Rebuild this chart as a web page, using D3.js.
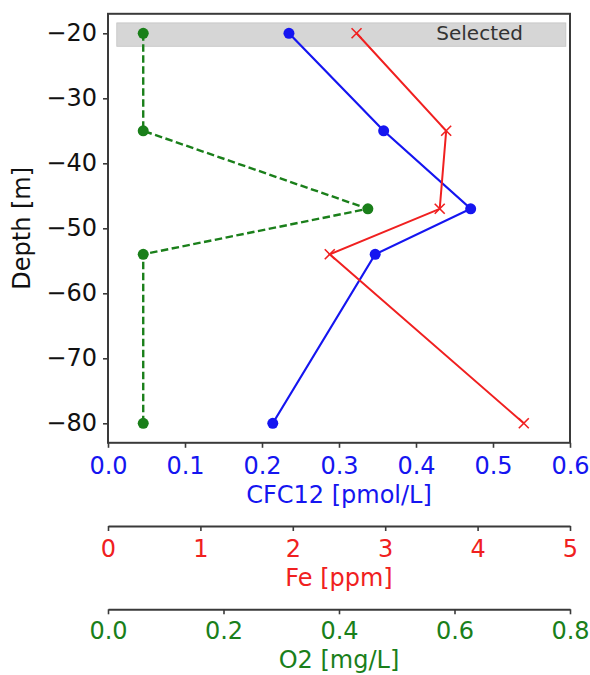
<!DOCTYPE html>
<html><head><meta charset="utf-8">
<script src="https://cdn.jsdelivr.net/npm/d3@7"></script>
<style>
html,body{margin:0;padding:0;background:#fff;}
svg{display:block;font-family:"DejaVu Sans",sans-serif;}
</style></head>
<body>
<svg id="chart" width="590" height="675"></svg>
<script>
// ---- data ----
const depths = [-20, -35, -47, -54, -80];
const cfc12 = [0.235, 0.358, 0.471, 0.347, 0.214];   // pmol/L
const fe = [2.69, 3.66, 3.59, 2.40, 4.50];            // ppm
const o2 = [0.061, 0.061, 0.450, 0.061, 0.061];       // mg/L
const depthTicks = [-20, -30, -40, -50, -60, -70, -80];
const cfcTicks = [0.0, 0.1, 0.2, 0.3, 0.4, 0.5, 0.6];
const feTicks = [0, 1, 2, 3, 4, 5];
const o2Ticks = [0.0, 0.2, 0.4, 0.6, 0.8];
const selectedRange = [-18.4, -22];
const selectedLabel = "Selected";

// ---- layout ----
const L = 108, R = 570, T = 13.8, B = 442.8;
const feAxisY = 526, o2AxisY = 609.3;
const FS = 24;

const svg = d3.select("#chart");
const y = d3.scaleLinear().domain([-17, -83]).range([T, B]);
const xC = d3.scaleLinear().domain([0, 0.6]).range([L, R]);
const xF = d3.scaleLinear().domain([0, 5]).range([L, R]);
const xO = d3.scaleLinear().domain([0, 0.8]).range([L, R]);

const axisColor = "#3a3a3a";

// selected band
const bandX0 = L + (R - L) * 0.019, bandX1 = L + (R - L) * 0.991;
svg.append("rect")
  .attr("x", bandX0).attr("width", bandX1 - bandX0)
  .attr("y", y(selectedRange[0])).attr("height", y(selectedRange[1]) - y(selectedRange[0]))
  .attr("fill", "#d6d6d6").attr("stroke", "#c4c4c4").attr("stroke-width", 0.8);

// series
function drawLine(xs, vals, color, dash, width) {
  const pts = vals.map((v, i) => [xs(v), y(depths[i])]);
  svg.append("path").attr("d", d3.line()(pts))
    .attr("fill", "none").attr("stroke", color).attr("stroke-width", width)
    .attr("stroke-dasharray", dash || null);
  return pts;
}
const oPts = drawLine(xO, o2, "#1a7f1a", "7.5,3.5", 2.4);
svg.selectAll(".o2pt").data(oPts).enter().append("circle")
  .attr("cx", d => d[0]).attr("cy", d => d[1]).attr("r", 5.5).attr("fill", "#1a7f1a");

const cPts = drawLine(xC, cfc12, "#1515f0", null, 2.2);
svg.selectAll(".cpt").data(cPts).enter().append("circle")
  .attr("cx", d => d[0]).attr("cy", d => d[1]).attr("r", 5.5).attr("fill", "#1515f0");

const fPts = drawLine(xF, fe, "#f02020", null, 2.0);
const s = 5;
svg.selectAll(".fpt").data(fPts).enter().append("path")
  .attr("d", d => `M${d[0]-s},${d[1]-s}L${d[0]+s},${d[1]+s}M${d[0]-s},${d[1]+s}L${d[0]+s},${d[1]-s}`)
  .attr("stroke", "#f02020").attr("stroke-width", 1.6).attr("fill", "none");

// selected label
svg.append("text").attr("x", 523).attr("y", 39.5).attr("text-anchor", "end")
  .attr("font-size", 20).attr("fill", "#333").text(selectedLabel);

// frame
svg.append("rect").attr("x", L).attr("y", T).attr("width", R - L).attr("height", B - T)
  .attr("fill", "none").attr("stroke", axisColor).attr("stroke-width", 2);

function styleAxis(g, color) {
  g.select(".domain").attr("stroke", axisColor).attr("stroke-width", 2);
  g.selectAll(".tick line").attr("stroke", axisColor).attr("stroke-width", 1.6);
  g.selectAll(".tick text").attr("fill", color).attr("font-size", FS)
    .attr("font-family", "DejaVu Sans");
}

// y axis
const gy = svg.append("g").attr("transform", `translate(${L},0)`)
  .call(d3.axisLeft(y).tickValues(depthTicks).tickFormat(d3.format("d")).tickSize(5).tickSizeOuter(0).tickPadding(6));
styleAxis(gy, "#111");
gy.select(".domain").remove();

// CFC axis
const gc = svg.append("g").attr("transform", `translate(0,${B})`)
  .call(d3.axisBottom(xC).tickValues(cfcTicks).tickFormat(d3.format(".1f")).tickSize(5).tickSizeOuter(0).tickPadding(9));
styleAxis(gc, "#1515f0");
gc.select(".domain").remove();

// Fe axis
const gf = svg.append("g").attr("transform", `translate(0,${feAxisY})`)
  .call(d3.axisBottom(xF).tickValues(feTicks).tickFormat(d3.format("d")).tickSize(5).tickSizeOuter(0).tickPadding(9));
styleAxis(gf, "#f02020");

// O2 axis
const go = svg.append("g").attr("transform", `translate(0,${o2AxisY})`)
  .call(d3.axisBottom(xO).tickValues(o2Ticks).tickFormat(d3.format(".1f")).tickSize(5).tickSizeOuter(0).tickPadding(8));
styleAxis(go, "#1a7f1a");

// axis labels
const mid = (L + R) / 2;
svg.append("text").attr("x", mid).attr("y", 503).attr("text-anchor", "middle")
  .attr("font-size", FS).attr("fill", "#1515f0").text("CFC12 [pmol/L]");
svg.append("text").attr("x", mid).attr("y", 586).attr("text-anchor", "middle")
  .attr("font-size", FS).attr("fill", "#f02020").text("Fe [ppm]");
svg.append("text").attr("x", mid).attr("y", 668).attr("text-anchor", "middle")
  .attr("font-size", FS).attr("fill", "#1a7f1a").text("O2 [mg/L]");
svg.append("text").attr("transform", `translate(30,${(T + B) / 2}) rotate(-90)`)
  .attr("text-anchor", "middle").attr("font-size", FS).attr("fill", "#111").text("Depth [m]");
</script>
</body></html>
